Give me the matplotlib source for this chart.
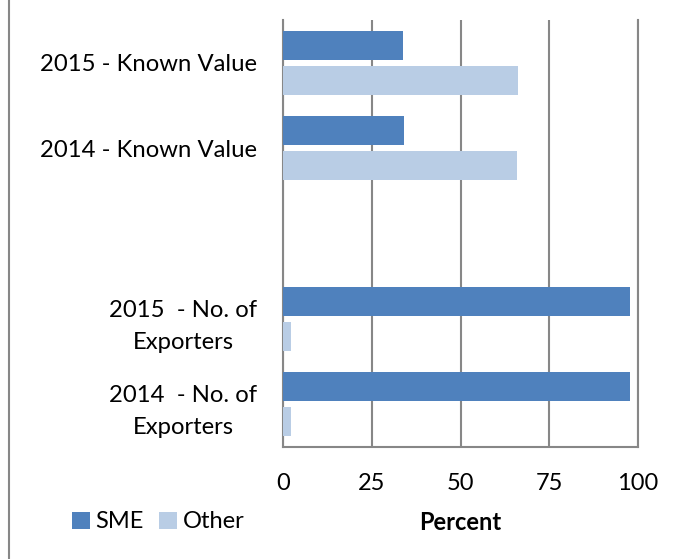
import matplotlib
matplotlib.use("Agg")
import matplotlib.pyplot as plt
import numpy as np

plt.rcParams['font.family'] = ['Lato', 'DejaVu Sans']

# data (top to bottom, blank slot between groups)
categories = ["2015 - Known Value", "2014 - Known Value", "",
              "2015  - No. of\nExporters", "2014  - No. of\nExporters"]
sme = [33.9, 34.1, np.nan, 97.7, 97.7]
other = [66.1, 65.9, np.nan, 2.3, 2.3]
xticks = [0, 25, 50, 75, 100]

fig = plt.figure(figsize=(6.76, 5.59), dpi=100)
ax = fig.add_axes([283 / 676, 1 - 447 / 559, 355 / 676, 427 / 559])

y = np.arange(len(categories))
h = 0.34
ax.barh(y - 0.207, sme, height=h, color='#4F81BD', label='SME', zorder=3)
ax.barh(y + 0.207, other, height=h, color='#B9CDE5', label='Other', zorder=3)

ax.set_ylim(len(categories) - 0.5, -0.5)
ax.set_xlim(0, 100)
ax.set_xticks(xticks)
ax.set_yticks(y)
ax.set_yticklabels(categories, fontsize=17.2, multialignment='center',
                   linespacing=1.65)
ax.tick_params(axis='both', length=0)
ax.tick_params(axis='y', pad=18.5)
ax.tick_params(axis='x', pad=19, labelsize=17)

ax.grid(axis='x', color='#878787', linewidth=1.5, zorder=0)
ax.grid(axis='y', visible=False)
ax.spines['top'].set_visible(False)
for s in ['left', 'bottom', 'right']:
    ax.spines[s].set_color('#878787')
    ax.spines[s].set_linewidth(1.5)

fig.text(460 / 676, 1 - 522 / 559, 'Percent', fontsize=17, fontweight='bold',
         ha='center', va='center')

fig.legend(loc='center left', bbox_to_anchor=(72 / 676, 1 - 522 / 559), ncol=2,
           frameon=False, fontsize=17, handlelength=0.75, handleheight=0.75,
           handletextpad=0.25, columnspacing=0.65, borderaxespad=0, borderpad=0)

# left border of the chart frame
fig.add_artist(plt.Line2D([8.5 / 676, 8.5 / 676], [0, 1], color='#878787',
                          linewidth=1.5, transform=fig.transFigure))

fig.savefig('out.png', dpi=100)
